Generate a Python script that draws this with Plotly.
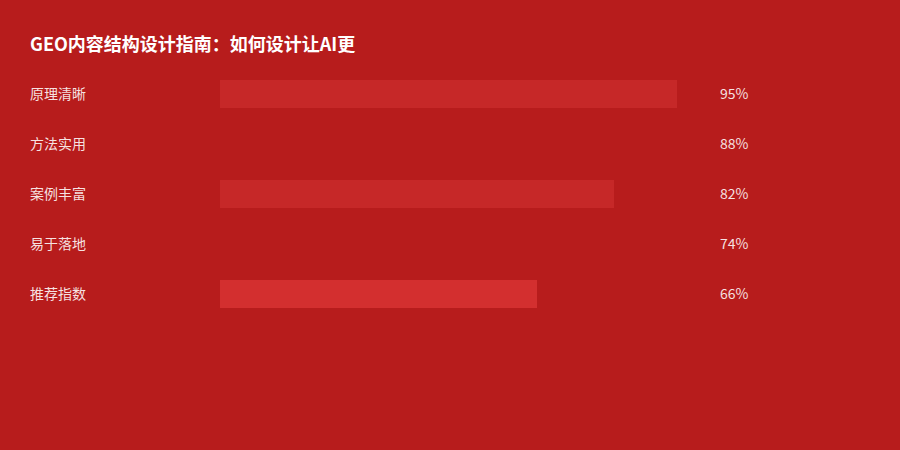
import plotly.graph_objects as go

categories = ["原理清晰", "方法实用", "案例丰富", "易于落地", "推荐指数"]
values = [95, 88, 82, 74, 66]
bar_colors = ["#C62828", "#B71C1C", "#C62828", "#B71C1C", "#D32F2F"]
title_text = "GEO内容结构设计指南：如何设计让AI更"

BG = "#B71C1C"
W, H = 900, 450
FONT = "Noto Sans CJK SC, Microsoft YaHei, sans-serif"
TXT = "rgba(255,255,255,0.88)"

fig = go.Figure()
fig.add_trace(go.Bar(
    x=values, y=categories, orientation="h",
    marker=dict(color=bar_colors, line=dict(width=0)),
    width=0.56, hoverinfo="skip", showlegend=False,
))

annotations = []
for c, v in zip(categories, values):
    annotations.append(dict(x=30 / W, xref="paper", y=c, yref="y", text=c,
                            showarrow=False, xanchor="left", yanchor="middle",
                            borderpad=0, borderwidth=0, yshift=1,
                            font=dict(family=FONT, size=14, color=TXT)))
    annotations.append(dict(x=720 / W, xref="paper", y=c, yref="y", text=f"{v}%",
                            showarrow=False, xanchor="left", yanchor="middle",
                            borderpad=0, borderwidth=0, yshift=1,
                            font=dict(family=FONT, size=14, color=TXT)))
annotations.append(dict(x=30 / W, xref="paper", y=1 - 44 / H, yref="paper",
                        text=f"<b>{title_text}</b>", showarrow=False,
                        xanchor="left", yanchor="middle",
                        borderpad=0, borderwidth=0, yshift=1,
                        font=dict(family=FONT, size=18, color="#FFFFFF")))

fig.update_layout(
    width=W, height=H,
    margin=dict(l=0, r=0, t=0, b=0),
    paper_bgcolor=BG, plot_bgcolor=BG,
    xaxis=dict(domain=[220 / W, 701 / W], range=[0, 100], visible=False, fixedrange=True),
    yaxis=dict(domain=[1 - 319 / H, 1 - 69 / H], type="category",
               categoryorder="array", categoryarray=categories,
               range=[4.5, -0.5], visible=False, fixedrange=True),
    annotations=annotations,
    bargap=0,
)

fig.write_html(
    "out.html",
    config={"displayModeBar": False},
    post_script="document.body.style.margin='0';document.body.style.background='%s';" % BG,
)
